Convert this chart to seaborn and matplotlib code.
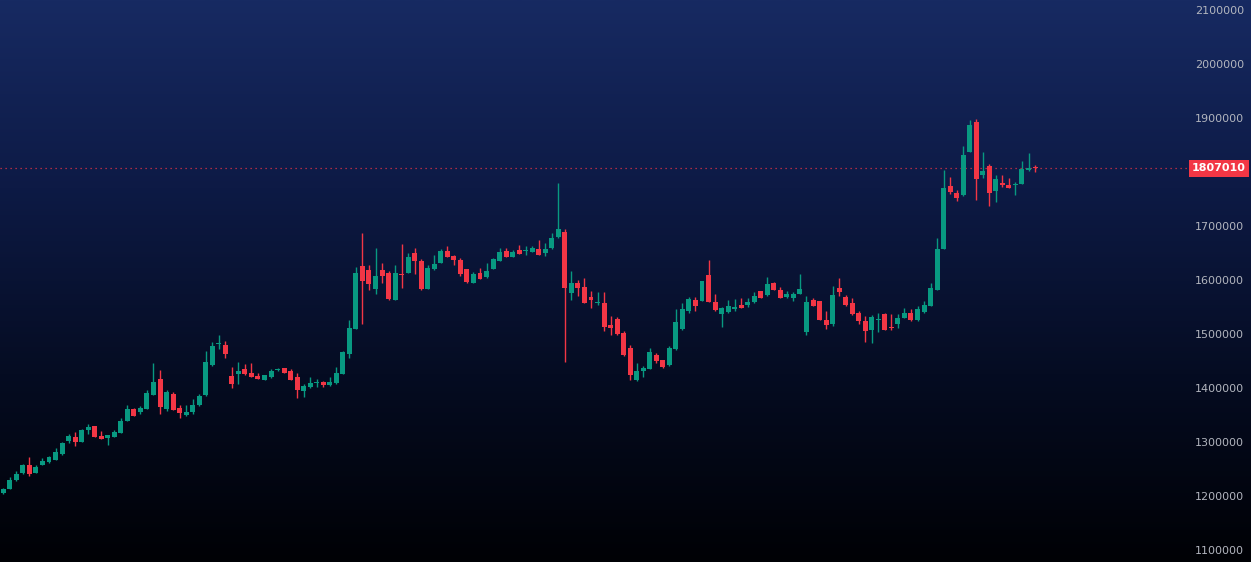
import numpy as np
import pandas as pd
import matplotlib
matplotlib.use("Agg")
import matplotlib.pyplot as plt
import matplotlib.transforms as mtransforms
import seaborn as sns
from matplotlib.colors import LinearSegmentedColormap

# OHLC values in thousands
open_ = [1205, 1213, 1230, 1243, 1257, 1243, 1257, 1263, 1267, 1278,
         1302, 1309, 1300, 1322, 1330, 1311, 1307, 1309, 1317, 1339,
         1361, 1356, 1361, 1387, 1417, 1361, 1389, 1363, 1350, 1356,
         1368, 1387, 1443, 1481, 1480, 1422, 1426, 1435, 1428, 1422,
         1415, 1420, 1433, 1437, 1431, 1420, 1394, 1402, 1409, 1411,
         1406, 1409, 1426, 1463, 1509, 1626, 1618, 1583, 1618, 1613,
         1563, 1611, 1613, 1650, 1635, 1583, 1620, 1631, 1654, 1644,
         1637, 1620, 1594, 1613, 1606, 1620, 1635, 1654, 1643, 1656,
         1654, 1652, 1657, 1650, 1659, 1680, 1689, 1576, 1594, 1587,
         1568, 1557, 1557, 1517, 1528, 1502, 1474, 1415, 1431, 1435,
         1461, 1452, 1443, 1472, 1509, 1543, 1563, 1561, 1609, 1559,
         1537, 1541, 1546, 1554, 1554, 1559, 1580, 1572, 1594, 1581,
         1568, 1567, 1574, 1504, 1563, 1561, 1526, 1518, 1585, 1568,
         1557, 1539, 1524, 1507, 1526, 1537, 1513, 1518, 1530, 1539,
         1526, 1541, 1552, 1581, 1657, 1774, 1761, 1757, 1837, 1893,
         1794, 1811, 1765, 1780, 1776, 1776, 1778, 1804, 1809]
high = [1215, 1235, 1246, 1259, 1272, 1257, 1270, 1274, 1289, 1300,
        1315, 1318, 1324, 1333, 1330, 1320, 1313, 1322, 1344, 1368,
        1363, 1367, 1396, 1446, 1433, 1396, 1393, 1368, 1368, 1380,
        1389, 1468, 1485, 1498, 1487, 1439, 1448, 1444, 1446, 1428,
        1424, 1435, 1437, 1437, 1435, 1428, 1407, 1420, 1417, 1413,
        1420, 1439, 1468, 1526, 1624, 1687, 1628, 1659, 1631, 1617,
        1628, 1667, 1650, 1659, 1639, 1628, 1646, 1657, 1663, 1646,
        1641, 1620, 1615, 1622, 1631, 1641, 1659, 1659, 1656, 1665,
        1663, 1663, 1674, 1668, 1687, 1780, 1694, 1617, 1600, 1604,
        1580, 1578, 1578, 1533, 1531, 1506, 1480, 1446, 1441, 1474,
        1465, 1452, 1478, 1546, 1557, 1568, 1568, 1598, 1637, 1574,
        1550, 1563, 1565, 1567, 1567, 1578, 1580, 1606, 1596, 1587,
        1580, 1578, 1611, 1570, 1567, 1561, 1543, 1589, 1604, 1572,
        1567, 1543, 1533, 1535, 1539, 1539, 1537, 1537, 1548, 1546,
        1552, 1561, 1594, 1678, 1804, 1791, 1767, 1848, 1896, 1898,
        1837, 1815, 1794, 1794, 1789, 1782, 1820, 1835, 1813]
low = [1204, 1213, 1228, 1241, 1237, 1242, 1257, 1261, 1266, 1276,
       1298, 1293, 1300, 1315, 1309, 1305, 1294, 1309, 1316, 1338,
       1348, 1352, 1361, 1387, 1352, 1357, 1359, 1344, 1348, 1352,
       1367, 1385, 1441, 1472, 1456, 1400, 1407, 1424, 1420, 1417,
       1415, 1418, 1431, 1428, 1415, 1381, 1383, 1400, 1402, 1402,
       1404, 1407, 1426, 1456, 1509, 1518, 1581, 1574, 1594, 1563,
       1563, 1585, 1613, 1611, 1581, 1583, 1618, 1631, 1643, 1628,
       1607, 1594, 1594, 1602, 1604, 1620, 1635, 1643, 1643, 1648,
       1646, 1652, 1646, 1644, 1657, 1678, 1448, 1563, 1570, 1557,
       1548, 1554, 1506, 1498, 1498, 1459, 1415, 1413, 1420, 1435,
       1446, 1437, 1441, 1470, 1507, 1539, 1543, 1561, 1559, 1543,
       1513, 1539, 1543, 1548, 1550, 1557, 1567, 1570, 1581, 1567,
       1567, 1561, 1574, 1498, 1552, 1526, 1509, 1515, 1570, 1552,
       1535, 1518, 1485, 1483, 1504, 1507, 1507, 1511, 1530, 1524,
       1524, 1539, 1552, 1581, 1657, 1759, 1746, 1756, 1837, 1748,
       1789, 1737, 1744, 1772, 1770, 1757, 1778, 1802, 1800]
close = [1213, 1230, 1241, 1257, 1241, 1254, 1265, 1272, 1282, 1298,
         1311, 1300, 1322, 1328, 1309, 1306, 1313, 1318, 1339, 1361,
         1348, 1363, 1391, 1411, 1365, 1393, 1359, 1354, 1356, 1368,
         1385, 1448, 1478, 1483, 1463, 1407, 1431, 1426, 1420, 1417,
         1424, 1431, 1435, 1428, 1415, 1396, 1404, 1409, 1411, 1406,
         1411, 1428, 1467, 1511, 1613, 1598, 1593, 1607, 1607, 1565,
         1613, 1609, 1643, 1635, 1583, 1622, 1630, 1654, 1643, 1637,
         1611, 1596, 1611, 1602, 1617, 1639, 1652, 1643, 1652, 1648,
         1656, 1659, 1646, 1657, 1678, 1694, 1585, 1594, 1585, 1557,
         1563, 1559, 1513, 1511, 1500, 1461, 1424, 1431, 1437, 1467,
         1450, 1439, 1474, 1522, 1546, 1565, 1552, 1598, 1559, 1544,
         1548, 1552, 1550, 1548, 1559, 1570, 1567, 1593, 1581, 1567,
         1574, 1574, 1583, 1559, 1552, 1526, 1517, 1572, 1578, 1554,
         1537, 1524, 1506, 1531, 1528, 1507, 1511, 1530, 1539, 1526,
         1546, 1554, 1585, 1657, 1770, 1763, 1752, 1831, 1887, 1787,
         1802, 1761, 1787, 1776, 1770, 1778, 1806, 1807.4, 1807.01]
# 1800000 is covered by the last-price label, so it is not listed
price_ticks = [1100000, 1200000, 1300000, 1400000, 1500000, 1600000,
               1700000, 1900000, 2000000, 2100000]
last_price = 1807010

UP = "#089981"
DOWN = "#f23645"

sns.set_theme(style="dark")
plt.rcParams['font.family'] = ['DejaVu Sans']

df = pd.DataFrame({
    "open": np.array(open_) * 1000,
    "high": np.array(high) * 1000,
    "low": np.array(low) * 1000,
    "close": np.array(close) * 1000,
})
df["idx"] = np.arange(len(df))
df["color"] = np.where(df["close"] >= df["open"], UP, DOWN)
df["bottom"] = df[["open", "close"]].min(axis=1)
df["body"] = (df["close"] - df["open"]).abs().clip(lower=1900)

W, H = 1251, 562
fig = plt.figure(figsize=(W / 100, H / 100), dpi=100)

# background gradient over the whole figure
bg = fig.add_axes([0, 0, 1, 1])
grad_cmap = LinearSegmentedColormap.from_list(
    "bg", ["#000105", "#050c22", "#0d1a45", "#172a62"])
bg.imshow(np.linspace(0, 1, 256).reshape(-1, 1), aspect="auto",
          cmap=grad_cmap, origin="lower", extent=[0, 1, 0, 1])
bg.axis("off")

plot_w = 1188 / W
ax = fig.add_axes([0, 0, plot_w, 1])
ax.patch.set_alpha(0)

ax.vlines(df["idx"], df["low"], df["high"], colors=df["color"],
          linewidth=1, zorder=2)
ax.bar(df["idx"], df["body"], bottom=df["bottom"], width=0.76,
       color=df["color"], linewidth=0, zorder=3)

# last price line
ax.axhline(last_price, color=DOWN, linestyle=(0, (1, 3)), linewidth=0.9,
           alpha=0.9, zorder=1)

step = 6.53
x0 = -3.3 / step
ax.set_xlim(x0, x0 + 1188 / step)
ymax = 2100000 + 10 * 1e6 / 540
ymin = 2100000 - (H - 10) * 1e6 / 540
ax.set_ylim(ymin, ymax)

ax.set_xticks([])
ax.set_yticks(price_ticks)
ax.set_yticklabels([str(t) for t in price_ticks])
ax.yaxis.tick_right()
ax.tick_params(axis="y", length=0, pad=40.5, colors="#b2b5be", labelsize=8)
for lab in ax.get_yticklabels():
    lab.set_horizontalalignment("right")
ax.grid(False)
for s in ax.spines.values():
    s.set_visible(False)

trans = mtransforms.blended_transform_factory(ax.transAxes, ax.transData)
ax.text(1219 / 1188, last_price, f"{last_price}", transform=trans,
        ha="center", va="center", color="white", fontsize=8,
        fontweight="bold",
        bbox=dict(boxstyle="square,pad=0.3", fc=DOWN, ec="none"),
        clip_on=False)

fig.savefig("out.png", dpi=100)
